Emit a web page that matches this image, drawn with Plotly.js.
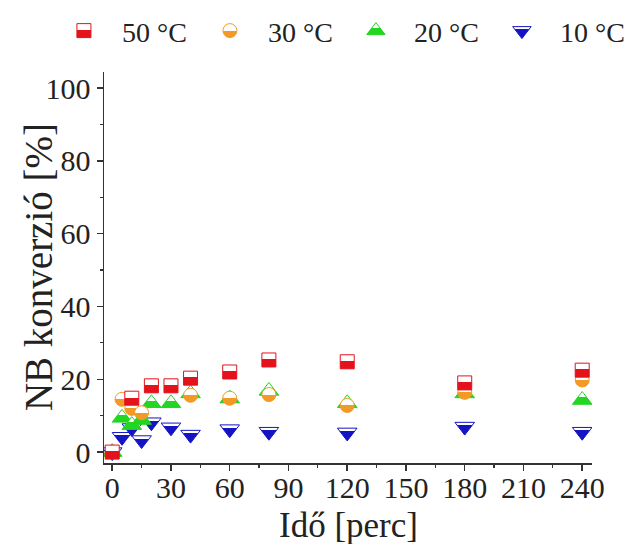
<!DOCTYPE html>
<html>
<head>
<meta charset="utf-8">
<script src="https://cdn.plot.ly/plotly-3.0.1.min.js"></script>
<style>html,body{margin:0;padding:0;background:#fff;}#chart{width:640px;height:544px;}</style>
</head>
<body>
<div id="chart"></div>
<script>
// Data
var seriesNames = ["50 °C", "30 °C", "20 °C", "10 °C"];
var t50 = [0, 10, 20, 30, 40, 60, 80, 120, 180, 240];
var v50 = [0, 14.8, 18.2, 18.2, 20.3, 22.0, 25.3, 24.8, 19.0, 22.5];
var t30 = [0, 5, 10, 15, 40, 60, 80, 120, 180, 240];
var v30 = [0, 14.5, 12.0, 10.8, 15.6, 14.8, 15.8, 12.8, 16.4, 19.8];
var t20 = [0, 5, 10, 15, 20, 30, 40, 60, 80, 120, 180, 240];
var v20 = [0, 9.4, 7.4, 8.8, 13.4, 13.4, 16.1, 14.7, 16.8, 13.4, 16.1, 14.3];
var t10 = [0, 5, 10, 15, 20, 30, 40, 60, 80, 120, 180, 240];
var v10 = [0, 4.2, 6.6, 3.3, 8.2, 6.8, 4.8, 6.3, 5.6, 5.4, 7.0, 5.6];
var xTicks = [0, 30, 60, 90, 120, 150, 180, 210, 240];
var yTicks = [0, 20, 40, 60, 80, 100];
var xTitle = "Idő [perc]";
var yTitle = "NB konverzió [%]";

var colors = ["#e3121b", "#f39a26", "#22d622", "#1414c4"];
var symbols = ["square", "circle", "triangle-up", "triangle-down"];
var sizes = [14, 14, 17, 17];
var splitAt = {"#e3121b": 0.45, "#f39a26": 0.5, "#22d622": 0.45, "#1414c4": 0.22};
var xs = [t50, t30, t20, t10];
var ys = [v50, v30, v20, v10];

var traces = [];
for (var i = 0; i < 4; i++) {
  traces.push({
    x: xs[i], y: ys[i], name: seriesNames[i],
    type: "scatter", mode: "markers",
    marker: {
      symbol: symbols[i], size: sizes[i], color: colors[i],
      line: {color: colors[i], width: 1},
      gradient: {type: "vertical", color: "#ffffff"}
    }
  });
}
// draw 10 °C first so red sits on top like in the reference
traces = [traces[3], traces[2], traces[1], traces[0]];

var fam = "'Liberation Serif', 'Times New Roman', Times, serif";
var tickFont = {family: fam, size: 30, color: "#222"};
var legFont = {family: fam, size: 28, color: "#222"};
var xTitleFont = {family: fam, size: 35, color: "#222"};
var yTitleFont = {family: fam, size: 39, color: "#222"};
var layout = {
  width: 640, height: 544,
  paper_bgcolor: "#fff", plot_bgcolor: "#fff",
  margin: {l: 104, r: 48, t: 72, b: 81, autoexpand: false},
  showlegend: true,
  legend: {
    orientation: "h", x: -0.119, xanchor: "left",
    y: 1.169, yanchor: "top",
    traceorder: "reversed",
    font: legFont, itemwidth: 66, entrywidth: 65, entrywidthmode: "pixels"
  },
  xaxis: {
    range: [-4.2, 245], tickvals: xTicks, ticktext: xTicks.map(String),
    ticks: "outside", ticklen: 6, tickwidth: 1.5, tickcolor: "#333",
    showline: true, linecolor: "#333", linewidth: 1.5, showgrid: false, zeroline: false,
    minor: {dtick: 15, tick0: 0, ticks: "outside", ticklen: 3, tickwidth: 1.2, tickcolor: "#333"},
    tickfont: tickFont, ticklabelstandoff: -9
  },
  yaxis: {
    range: [-3.0, 104.4], tickvals: yTicks, ticktext: yTicks.map(String),
    ticks: "outside", ticklen: 6, tickwidth: 1.5, tickcolor: "#333",
    showline: true, linecolor: "#333", linewidth: 1.5, showgrid: false, zeroline: false,
    minor: {dtick: 10, tick0: 0, ticks: "outside", ticklen: 3, tickwidth: 1.2, tickcolor: "#333"},
    tickfont: tickFont
  },
  annotations: [{
    text: yTitle, textangle: -90, font: yTitleFont, showarrow: false,
    xref: "paper", yref: "paper", x: -0.134, y: 0.5, xanchor: "center", yanchor: "middle"
  }, {
    text: xTitle, font: xTitleFont, showarrow: false,
    xref: "paper", yref: "paper", x: 0.5, y: -0.161, xanchor: "center", yanchor: "middle"
  }]
};

Plotly.newPlot("chart", traces, layout, {displayModeBar: false, staticPlot: true}).then(function (gd) {
  // sharp half fill: white top part, coloured bottom part
  var grads = gd.querySelectorAll("linearGradient");
  grads.forEach(function (g) {
    var stops = g.querySelectorAll("stop");
    var col = null;
    stops.forEach(function (s) {
      var c = (s.getAttribute("stop-color") || "").toLowerCase();
      if (c && c !== "#ffffff" && c !== "#fff" && c !== "rgb(255, 255, 255)") col = c;
    });
    if (!col) return;
    var hex = col;
    var m = col.match(/rgb\((\d+),\s*(\d+),\s*(\d+)\)/);
    if (m) hex = "#" + [m[1], m[2], m[3]].map(function (v) { return ("0" + (+v).toString(16)).slice(-2); }).join("");
    var sp = splitAt[hex] !== undefined ? splitAt[hex] : 0.5;
    while (g.firstChild) g.removeChild(g.firstChild);
    var spec = [[0, "#ffffff"], [sp, "#ffffff"], [sp, col], [1, col]];
    spec.forEach(function (p) {
      var st = document.createElementNS("http://www.w3.org/2000/svg", "stop");
      st.setAttribute("offset", (p[0] * 100) + "%");
      st.setAttribute("stop-color", p[1]);
      st.setAttribute("stop-opacity", "1");
      g.appendChild(st);
    });
    g.setAttribute("x1", "0"); g.setAttribute("x2", "0");
    g.setAttribute("y1", "0"); g.setAttribute("y2", "1");
  });
});
</script>
</body>
</html>
